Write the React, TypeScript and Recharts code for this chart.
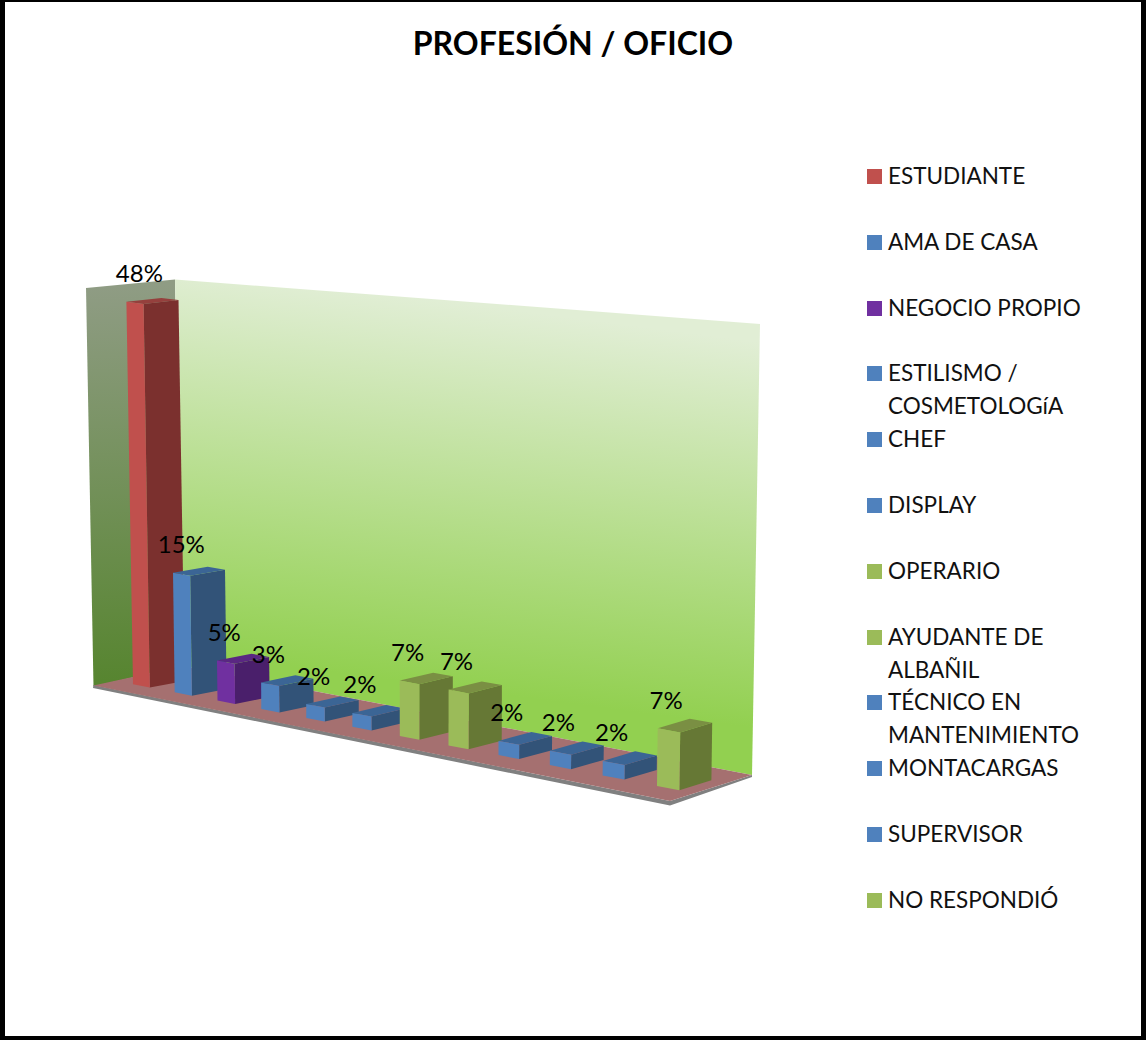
import React from "react";
import { BarChart, Bar, XAxis, YAxis, Legend, LabelList } from "recharts";

const CATEGORIES = [
  "ESTUDIANTE", "AMA DE CASA", "NEGOCIO PROPIO", "ESTILISMO / COSMETOLOGíA", "CHEF", "DISPLAY",
  "OPERARIO", "AYUDANTE DE ALBAÑIL", "TÉCNICO EN MANTENIMIENTO", "MONTACARGAS", "SUPERVISOR", "NO RESPONDIÓ",
];
const VALUES = [48.3, 15, 5, 3.3, 1.7, 1.7, 6.7, 6.7, 1.7, 1.7, 1.7, 6.7];
const RED = { front: "#C0504D", side: "#7B302E", top: "#95403D" };
const BLUE = { front: "#4F81BD", side: "#325378", top: "#3B6595" };
const PURPLE = { front: "#7030A0", side: "#4A1F6B", top: "#5A2782" };
const OLIVE = { front: "#9BBB59", side: "#667835", top: "#7A8F43" };
const PALETTE = [RED, BLUE, PURPLE, BLUE, BLUE, BLUE, OLIVE, OLIVE, BLUE, BLUE, BLUE, OLIVE];

const FONT = "Lato, Carlito, Calibri, sans-serif";
const W = 1146;
const H = 1040;
const LEGEND_W = 286;
const PLOT_W = W - LEGEND_W;
const LABEL_SIZE = 24;

const data = CATEGORIES.map((name, i) => ({ name, value: VALUES[i] }));

// Perspective projection from the flat Recharts plot to the tilted 3D look.
const screenX = (flatX: number) => {
  const u = flatX / PLOT_W;
  return (472.9 * u + 120.7) / (1 - 0.147 * u);
};
const baseY = (sx: number) => 684.3 + 0.194 * (sx - 133.3);
const heightScale = (sx: number) => 0.99 + (0.085 * (sx - 133)) / 524;
const bottomPoint = (sx: number) => ({ x: sx, y: baseY(sx) });
const topPoint = (sx: number, flatH: number) => {
  const h = flatH * heightScale(sx);
  return { x: sx + ((sx - 425) * h) / 17000, y: baseY(sx) - h };
};
const depth = (sx: number, flatH: number) => ({
  x: 35 - 0.0056 * (sx - 143),
  y: -(6.8 + 0.0065 * (sx - 190)) + 0.007 * flatH,
});
const pts = (list: { x: number; y: number }[]) => list.map((p) => `${p.x.toFixed(1)},${p.y.toFixed(1)}`).join(" ");
const add = (a: { x: number; y: number }, b: { x: number; y: number }) => ({ x: a.x + b.x, y: a.y + b.y });

const Bar3D = (props: any) => {
  const { x, width, height, index } = props;
  const colors = PALETTE[index];
  const l = screenX(x);
  const r = screenX(x + width);
  const bl = bottomPoint(l);
  const br = bottomPoint(r);
  const tl = topPoint(l, height);
  const tr = topPoint(r, height);
  const d = depth(r, height);
  const trBack = add(tr, d);
  const brBack = add(br, depth(r, 0));
  const tlBack = add(tl, d);
  return (
    <g>
      <polygon points={pts([tr, trBack, brBack, br])} fill={colors.side} />
      <polygon points={pts([tl, tlBack, trBack, tr])} fill={colors.top} />
      <polygon points={pts([tl, tr, br, bl])} fill={colors.front} />
    </g>
  );
};

const ValueLabel = (props: any) => {
  const { x, width, height, value } = props;
  const l = screenX(x);
  const r = screenX(x + width);
  const tl = topPoint(l, height);
  return (
    <text
      x={(l + r) / 2 - 2}
      y={tl.y - 29}
      textAnchor="middle"
      dominantBaseline="central"
      fontFamily={FONT}
      fontSize={LABEL_SIZE}
      fill="#000"
    >
      {Math.round(Number(value))}%
    </text>
  );
};

const LegendList = () => (
  <div style={{ fontFamily: FONT, fontSize: 22.5, lineHeight: "33px", color: "#111" }}>
    {CATEGORIES.map((name, i) => (
      <div key={name} style={{ height: 65.8, position: "relative", paddingLeft: 28, width: 214 }}>
        <span
          style={{
            position: "absolute",
            left: 7,
            top: 10,
            width: 15,
            height: 15,
            background: PALETTE[i].front,
          }}
        />
        {name}
      </div>
    ))}
  </div>
);

export default function App() {
  return (
    <div style={{ position: "absolute", left: 0, top: 0, width: W, height: H, background: "#fff" }}>
      <BarChart
        width={W}
        height={H}
        data={data}
        margin={{ top: 300, right: 0, bottom: 340, left: 0 }}
        barCategoryGap="30%"
      >
        <defs>
          <linearGradient id="backWall" gradientUnits="userSpaceOnUse" x1={440} y1={300} x2={390} y2={680}>
            <stop offset="0" stopColor="#E1EED5" />
            <stop offset="1" stopColor="#92D050" />
          </linearGradient>
          <linearGradient id="sideWall" gradientUnits="userSpaceOnUse" x1={130} y1={285} x2={140} y2={680}>
            <stop offset="0" stopColor="#8F9C84" />
            <stop offset="1" stopColor="#578530" />
          </linearGradient>
        </defs>
        <text
          x={573}
          y={42}
          textAnchor="middle"
          dominantBaseline="central"
          fontFamily={FONT}
          fontWeight={700}
          fontSize={32}
          fill="#000"
        >
          PROFESIÓN / OFICIO
        </text>
        <polygon points="86,288 175,279.5 183,666 93.5,686.5" fill="url(#sideWall)" />
        <polygon points="175,279.5 760,324 752,775 183,666" fill="url(#backWall)" />
        <polygon points="93,688 670,805.5 752,777 752,775 670,801 93.5,685" fill="#808080" />
        <polygon points="93.5,685.5 183,666 752,775 670,801" fill="#A57070" />
        <XAxis dataKey="name" hide />
        <YAxis hide domain={[0, 50]} />
        <Legend
          layout="vertical"
          align="right"
          verticalAlign="top"
          width={LEGEND_W}
          wrapperStyle={{ top: 159, right: 0, left: "auto", width: LEGEND_W, paddingLeft: 0 }}
          content={<LegendList />}
        />
        <Bar dataKey="value" shape={<Bar3D />} isAnimationActive={false}>
          <LabelList dataKey="value" content={<ValueLabel />} />
        </Bar>
      </BarChart>
      <div
        style={{
          position: "absolute",
          inset: 0,
          boxSizing: "border-box",
          borderStyle: "solid",
          borderColor: "#000",
          borderWidth: "2px 5px 4px 5px",
          pointerEvents: "none",
        }}
      />
    </div>
  );
}
